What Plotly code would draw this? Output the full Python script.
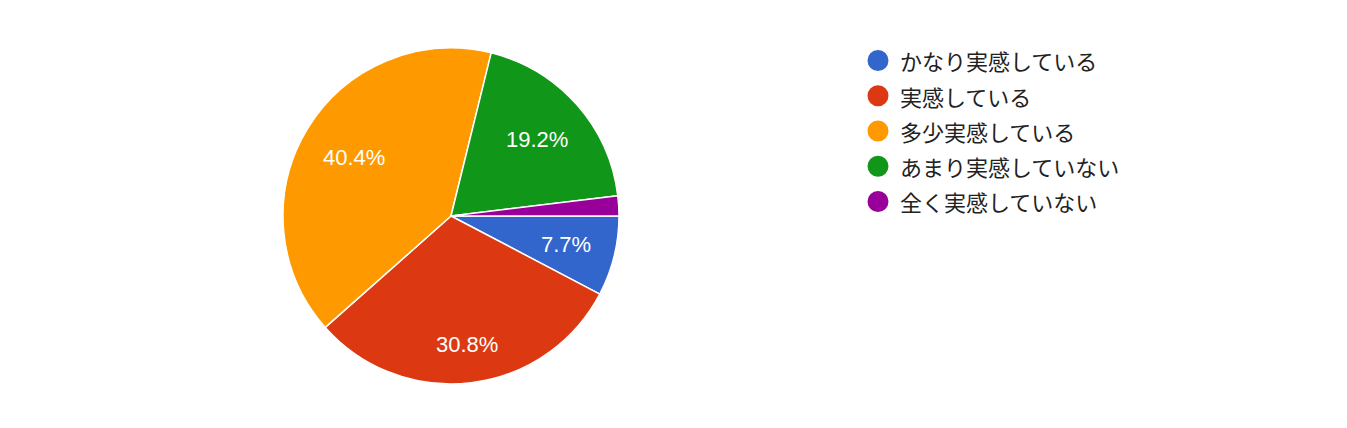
import math

import plotly.graph_objects as go

labels = ["かなり実感している", "実感している", "多少実感している", "あまり実感していない", "全く実感していない"]
counts = [4, 16, 21, 10, 1]
colors = ["#3366CC", "#DC3912", "#FF9900", "#109618", "#990099"]
show_pct = [True, True, True, True, False]

W, H = 1347, 428
PAD = 8  # body margin of the html page
CX, CY, R = 451, 216, 168  # pie centre / radius in screen pixels
PCT_SIZE = 22

FONT = "Arial, 'Liberation Sans', 'Noto Sans CJK JP', sans-serif"
LEG_FONT = "'Noto Sans CJK JP', Arial, sans-serif"

# arial advance widths (em) for the label characters
_ADV = {".": 0.278, "%": 0.889}


def px_x(x):
    return (x - PAD) / W


def px_y(y):
    return 1 - (y - PAD) / H


def label_radius(text, ux, uy, reach=144.5):
    # push the label out until its outer corner sits at `reach` px
    w = sum(_ADV.get(c, 0.556) for c in text) * PCT_SIZE / 2
    h = 0.36 * PCT_SIZE
    b = abs(ux) * w + abs(uy) * h
    c = w * w + h * h - reach * reach
    return -b + math.sqrt(b * b - c)


fig = go.Figure()
fig.add_trace(
    go.Pie(
        labels=labels,
        values=counts,
        sort=False,
        direction="clockwise",
        rotation=90,
        marker=dict(colors=colors, line=dict(color="white", width=1.5)),
        textinfo="none",
        showlegend=False,
        hoverinfo="label+value+percent",
        domain=dict(x=[px_x(CX - R), px_x(CX + R)], y=[px_y(CY + R), px_y(CY - R)]),
    )
)

# percentage labels, placed the way google charts does it
total = sum(counts)
cum = 0
annotations = []
for val, show in zip(counts, show_pct):
    mid = (cum + val / 2) / total
    cum += val
    if not show:
        continue
    text = f"{val / total * 100:.1f}%"
    theta = 2 * math.pi * mid
    ux, uy = math.cos(theta), math.sin(theta)
    r = label_radius(text, ux, uy)
    annotations.append(
        dict(
            x=px_x(CX + r * ux), y=px_y(CY + r * uy), xref="paper", yref="paper",
            text=text, showarrow=False,
            font=dict(color="white", size=PCT_SIZE, family=FONT),
            xanchor="center", yanchor="middle",
        )
    )

# legend: round dots + labels
shapes = []
for i, (name, col) in enumerate(zip(labels, colors)):
    ry = 60.5 + i * 35.25
    shapes.append(
        dict(
            type="circle", xref="paper", yref="paper",
            x0=px_x(867.5), x1=px_x(888.5), y0=px_y(ry + 10.5), y1=px_y(ry - 10.5),
            fillcolor=col, line=dict(width=0),
        )
    )
    annotations.append(
        dict(
            x=px_x(898), y=px_y(ry), xref="paper", yref="paper",
            text=name, showarrow=False, xanchor="left", yanchor="middle",
            font=dict(color="#222222", size=22, family=LEG_FONT),
        )
    )

fig.update_layout(
    width=W,
    height=H,
    margin=dict(l=0, r=0, t=0, b=0),
    paper_bgcolor="white",
    plot_bgcolor="white",
    annotations=annotations,
    shapes=shapes,
)

fig.write_html("out.html")
